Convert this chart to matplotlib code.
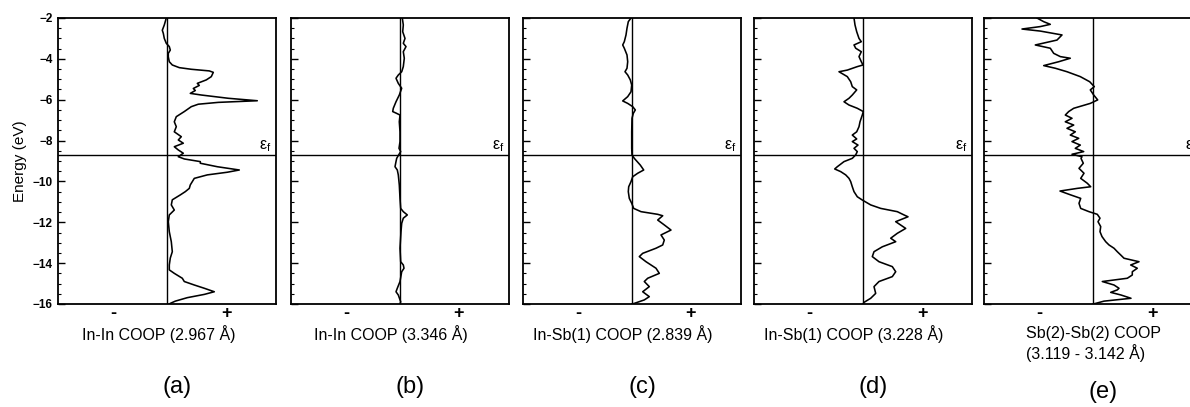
import matplotlib
matplotlib.use("Agg")
import matplotlib.pyplot as plt
from matplotlib.ticker import MultipleLocator

plt.rcParams['font.family'] = ['Liberation Sans', 'DejaVu Sans']
plt.rcParams['mathtext.fontset'] = 'dejavusans'

E_FERMI = -8.7

# Panel (a): In-In COOP (2.967 A)
E_a = [-2.00,-2.34,-2.60,-2.75,-3.00,-3.24,-3.40,-3.57,-3.73,-3.90,
       -4.14,-4.30,-4.43,-4.51,-4.59,-4.66,-4.87,-5.03,
       -5.20,-5.30,-5.45,-5.55,-5.69,-5.77,-5.93,-6.05,-6.13,-6.22,-6.34,
       -6.58,-6.83,-7.08,-7.32,-7.57,-7.81,-7.97,-8.13,-8.30,-8.46,-8.62,-8.79,-8.90,
       -9.03,-9.11,-9.28,-9.44,-9.55,-9.68,-9.85,-10.01,-10.17,-10.34,-10.50,-10.66,-10.90,
       -11.15,-11.40,-11.64,-11.97,-12.46,-12.95,-13.44,-13.75,-14.09,-14.33,-14.50,
       -14.74,-14.90,-15.07,-15.23,-15.40,-15.53,-15.69,-15.86,-15.97,-16.00]
C_a = [-0.01,-0.03,-0.05,-0.04,-0.03,-0.01,0.02,0.03,0.01,0.01,
       0.02,0.05,0.12,0.24,0.42,0.46,0.44,0.39,
       0.30,0.32,0.26,0.28,0.23,0.34,0.61,0.90,0.51,0.31,0.24,
       0.17,0.09,0.07,0.09,0.07,0.14,0.11,0.16,0.07,0.11,0.16,0.11,0.17,
       0.33,0.33,0.50,0.72,0.60,0.40,0.27,0.25,0.23,0.22,0.18,0.13,0.05,
       0.04,0.07,0.02,0.01,0.02,0.04,0.05,0.03,0.02,0.02,0.07,
       0.15,0.17,0.27,0.37,0.47,0.37,0.20,0.08,0.03,0.02]

# Panel (b): In-In COOP (3.346 A)
E_b = [-2.00,-2.34,-2.67,-3.00,-3.24,-3.40,-3.65,-3.97,-4.38,-4.63,
       -4.79,-4.95,-5.20,-5.44,-5.77,-6.10,-6.42,-6.58,-6.67,-6.75,
       -7.08,-7.57,-8.05,-8.38,-8.54,-8.70,-8.87,-9.03,-9.28,-9.44,
       -9.68,-10.17,-10.83,-11.32,-11.48,-11.64,-11.80,-12.05,-12.46,-13.27,
       -13.93,-14.09,-14.25,-14.42,-14.90,-15.23,-15.40,-15.56,-15.89,-16.00]
C_b = [0.023,0.033,0.027,0.05,0.033,0.06,0.033,0.043,0.033,0.017,
       -0.017,-0.04,-0.017,0.017,-0.007,-0.04,-0.067,-0.073,-0.033,0.0,
       -0.007,0.0,0.0,-0.01,0.007,-0.013,-0.033,-0.04,-0.05,-0.027,
       -0.017,-0.007,0.0,0.007,0.033,0.073,0.033,0.017,0.01,0.0,
       0.007,0.033,0.04,0.017,0.0,-0.027,-0.04,-0.017,0.007,0.0]

# Panel (c): In-Sb(1) COOP (2.839 A)
E_c = [-2.00,-2.18,-2.50,-2.83,-3.16,-3.32,-3.48,-3.81,-4.14,-4.46,
       -4.63,-4.79,-5.03,-5.28,-5.61,-5.85,-6.06,-6.18,-6.34,-6.50,
       -6.67,-6.91,-7.57,-8.38,-8.70,-8.87,-9.20,-9.44,-9.60,-9.77,
       -10.01,-10.26,-10.50,-10.83,-11.07,-11.32,-11.48,-11.61,-11.68,-11.89,
       -12.13,-12.38,-12.62,-12.87,-13.11,-13.27,-13.52,-13.68,-13.93,-14.25,
       -14.50,-14.74,-14.90,-15.15,-15.40,-15.64,-15.80,-15.97,-16.00]
C_c = [-0.01,-0.037,-0.05,-0.06,-0.077,-0.093,-0.077,-0.05,-0.043,-0.05,
       -0.07,-0.043,-0.017,-0.003,-0.01,-0.043,-0.093,-0.043,0.007,0.033,
       0.013,0.0,-0.003,-0.003,0.0,0.023,0.083,0.117,0.057,0.007,
       -0.01,-0.033,-0.037,-0.027,-0.003,0.017,0.09,0.257,0.307,0.257,
       0.323,0.39,0.29,0.323,0.307,0.24,0.107,0.073,0.14,0.24,
       0.273,0.157,0.123,0.173,0.107,0.173,0.123,0.023,0.0]

# Panel (d): In-Sb(1) COOP (3.228 A)
E_d = [-2.00,-2.34,-2.67,-3.00,-3.16,-3.32,-3.48,-3.65,-3.89,-4.14,
       -4.30,-4.38,-4.55,-4.63,-4.87,-5.12,-5.36,-5.52,-5.77,-5.93,
       -6.10,-6.26,-6.42,-6.58,-6.75,-7.08,-7.32,-7.57,-7.73,-7.92,
       -8.05,-8.22,-8.38,-8.54,-8.70,-8.87,-9.03,-9.28,-9.39,-9.52,
       -9.68,-9.85,-10.01,-10.26,-10.50,-10.75,-10.91,-11.15,-11.32,-11.48,
       -11.64,-11.73,-11.97,-12.30,-12.54,-12.78,-12.95,-13.20,-13.44,-13.68,
       -13.93,-14.17,-14.42,-14.66,-14.90,-15.15,-15.48,-15.72,-15.92,-16.00]
C_d = [-0.09,-0.08,-0.063,-0.04,-0.017,-0.09,-0.073,-0.017,-0.04,-0.017,
       0.0,-0.057,-0.157,-0.24,-0.157,-0.123,-0.107,-0.063,-0.107,-0.14,
       -0.19,-0.14,-0.057,0.003,-0.007,-0.03,-0.04,-0.063,-0.107,-0.063,
       -0.107,-0.05,-0.09,-0.057,-0.073,-0.107,-0.19,-0.257,-0.283,-0.223,
       -0.173,-0.14,-0.123,-0.107,-0.09,-0.057,-0.007,0.077,0.177,0.343,
       0.41,0.45,0.327,0.427,0.343,0.277,0.327,0.193,0.11,0.093,
       0.16,0.293,0.327,0.293,0.16,0.11,0.127,0.077,0.01,0.0]

# Panel (e): Sb(2)-Sb(2) COOP (3.119 - 3.142 A)
E_e = [-2.00,-2.18,-2.31,-2.42,-2.54,-2.64,-2.83,-3.08,-3.32,-3.48,
       -3.73,-3.89,-3.97,-4.14,-4.33,-4.46,-4.63,-4.87,-5.12,-5.36,
       -5.52,-5.77,-6.01,-6.18,-6.42,-6.58,-6.75,-6.91,-7.08,-7.24,
       -7.40,-7.57,-7.73,-7.89,-8.05,-8.22,-8.38,-8.54,-8.67,-8.79,
       -8.87,-9.11,-9.36,-9.60,-9.85,-10.09,-10.26,-10.34,-10.47,-10.66,
       -10.83,-11.07,-11.32,-11.48,-11.61,-11.80,-11.97,-12.21,-12.46,-12.70,
       -12.95,-13.11,-13.27,-13.44,-13.60,-13.76,-13.93,-14.09,-14.25,-14.42,
       -14.58,-14.74,-14.90,-15.07,-15.23,-15.31,-15.43,-15.56,-15.72,-15.86,
       -15.97,-16.00]
C_e = [-0.56,-0.493,-0.427,-0.527,-0.71,-0.527,-0.31,-0.36,-0.577,-0.427,
       -0.393,-0.327,-0.227,-0.343,-0.493,-0.377,-0.26,-0.127,-0.033,0.013,
       -0.027,0.007,0.047,-0.027,-0.193,-0.243,-0.277,-0.21,-0.277,-0.193,
       -0.26,-0.177,-0.227,-0.143,-0.21,-0.127,-0.177,-0.093,-0.21,-0.11,
       -0.12,-0.097,-0.14,-0.09,-0.123,-0.057,-0.023,-0.157,-0.33,-0.223,
       -0.123,-0.14,-0.123,-0.04,0.043,0.07,0.05,0.077,0.07,0.09,
       0.127,0.16,0.21,0.243,0.277,0.31,0.46,0.377,0.443,0.393,
       0.393,0.343,0.093,0.21,0.26,0.243,0.177,0.28,0.38,0.11,
       0.027,0.0]

panel_E = [E_a, E_b, E_c, E_d, E_e]
panel_C = [C_a, C_b, C_c, C_d, C_e]
panel_titles = ["In-In COOP (2.967 Å)", "In-In COOP (3.346 Å)",
                "In-Sb(1) COOP (2.839 Å)", "In-Sb(1) COOP (3.228 Å)",
                "Sb(2)-Sb(2) COOP\n(3.119 - 3.142 Å)"]
panel_letters = ["(a)", "(b)", "(c)", "(d)", "(e)"]
y_ticks = [-2, -4, -6, -8, -10, -12, -14, -16]
x_tick_labels = ["-", "+"]

W, H = 1190, 407
fig = plt.figure(figsize=(W / 100, H / 100), dpi=100)

lefts_px = [58.3, 291, 523, 754, 984]
width_px = 218
top_px, bot_px = 18, 304

for i in range(5):
    l = lefts_px[i] / W
    b = 1 - bot_px / H
    ax = fig.add_axes([l, b, width_px / W, (bot_px - top_px) / H])
    ax.plot(panel_C[i], panel_E[i], color='black', lw=1.15)
    ax.axvline(0, color='black', lw=1.0)
    ax.axhline(E_FERMI, color='black', lw=1.0)
    ax.set_xlim(-1.09, 1.09)
    ax.set_ylim(-16, -2)
    for sp in ax.spines.values():
        sp.set_linewidth(1.3)
    ax.yaxis.set_major_locator(MultipleLocator(2))
    ax.yaxis.set_minor_locator(MultipleLocator(0.5))
    ax.tick_params(axis='y', which='major', direction='in', length=5, width=1.0,
                   labelsize=8.5, pad=4, left=True, right=False,
                   labelleft=(i == 0))
    ax.tick_params(axis='y', which='minor', direction='in', length=2.5, width=0.8,
                   left=True, right=False)
    ax.set_yticks(y_ticks)
    if i == 0:
        for t in ax.get_yticklabels():
            t.set_fontweight('bold')
        ax.set_ylabel("Energy (eV)", fontsize=11, labelpad=4)
    ax.set_xticks([-0.54, 0.59])
    ax.set_xticklabels(x_tick_labels, fontsize=13, fontweight='bold')
    ax.tick_params(axis='x', length=0, pad=1)
    ax.text(0.977, E_FERMI + 0.06, '$\\mathregular{\u03b5_f}$', transform=ax.get_yaxis_transform(),
            ha='right', va='bottom', fontsize=11.5)
    cx = (lefts_px[i] + width_px / 2) / W
    if i < 4:
        fig.text(cx - 9 / W, 1 - 334 / H, panel_titles[i], ha='center', va='center', fontsize=11.5)
        fig.text(cx + 10 / W, 1 - 387 / H, panel_letters[i], ha='center', va='center', fontsize=17)
    else:
        fig.text(cx + 1 / W, 1 - 344 / H, panel_titles[i], ha='center', va='center',
                 multialignment='left', fontsize=11.5, linespacing=1.22)
        fig.text(cx + 10 / W, 1 - 392 / H, panel_letters[i], ha='center', va='center', fontsize=17)

fig.savefig("out.png", dpi=100)
